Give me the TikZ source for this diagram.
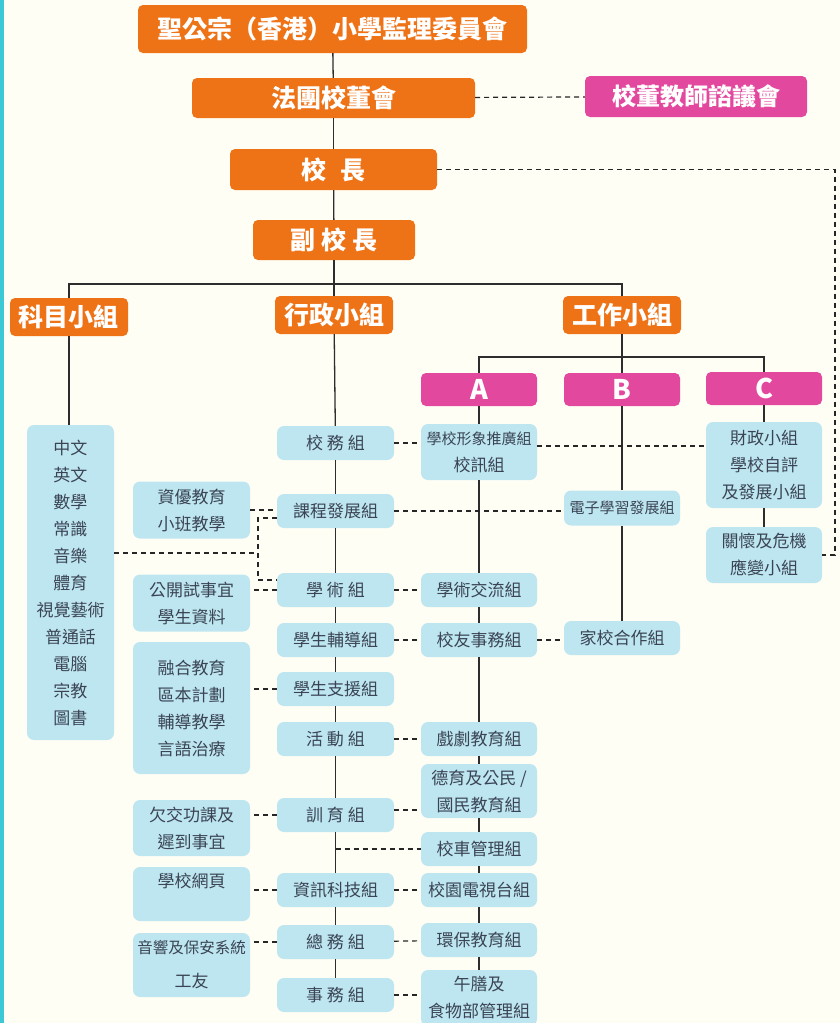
\documentclass[tikz,border=0pt]{standalone}
\usepackage{fontspec}
\setmainfont{Noto Sans CJK TC}

\definecolor{paper}{RGB}{255,254,244}
\definecolor{edgeteal}{RGB}{60,200,212}
\definecolor{orgfill}{RGB}{238,114,22}
\definecolor{pinkfill}{RGB}{226,72,158}
\definecolor{bluefill}{RGB}{190,230,241}
\definecolor{bluetext}{RGB}{58,68,84}
\definecolor{linegray}{RGB}{45,45,45}

\tikzset{
  chartbox/.style={rounded corners=5pt, inner sep=0pt, align=center},
  orangebox/.style={chartbox, fill=orgfill, text=white, font=\bfseries\fontsize{25}{27}\selectfont},
  pinkbox/.style={chartbox, fill=pinkfill, text=white, font=\bfseries\fontsize{24}{27}\selectfont},
  bluebox/.style={chartbox, rounded corners=7pt, fill=bluefill, text=bluetext,
    font=\fontsize{17}{27}\selectfont, minimum width=117pt, minimum height=34pt},
  narrow/.style={font=\fontsize{15}{27}\selectfont},
  link/.style={draw=linegray, line width=1.3pt},
  dashlink/.style={draw=black!85, line width=1.2pt, dash pattern=on 5pt off 4pt},
}

\begin{document}
\begin{tikzpicture}[x=1pt,y=-1pt]
  \useasboundingbox (0,0) rectangle (840,1023);
  \fill[paper] (0,0) rectangle (840,1023);
  \fill[edgeteal] (0,0) rectangle (4,1023);

  % upper part of the chart
  \node[orangebox, minimum width=389pt, minimum height=48pt] (top) at (332.5,29) {聖公宗（香港）小學監理委員會};
  \node[orangebox, minimum width=283pt, minimum height=40pt] (board) at (333.5,98) {法團校董會};
  \node[pinkbox, minimum width=222pt, minimum height=41pt] (council) at (696,96.5) {校董教師諮議會};
  \node[orangebox, minimum width=207pt, minimum height=41pt] (head) at (333.5,169.5) {校\hspace{14pt}長};
  \node[orangebox, minimum width=162pt, minimum height=40pt] (deputy) at (334,240) {副\hspace{6pt}校\hspace{6pt}長};
  \node[orangebox, minimum width=118pt, minimum height=38pt] (subj) at (69,317) {科目小組};
  \node[orangebox, minimum width=118pt, minimum height=38pt] (admin) at (334,315) {行政小組};
  \node[orangebox, minimum width=118pt, minimum height=38pt] (work) at (622,315) {工作小組};
  \node[pinkbox, font=\bfseries\fontsize{27}{27}\selectfont, minimum width=116pt, minimum height=33pt] (ga) at (479,389.5) {A};
  \node[pinkbox, font=\bfseries\fontsize{27}{27}\selectfont, minimum width=116pt, minimum height=33pt] (gb) at (622,389.5) {B};
  \node[pinkbox, font=\bfseries\fontsize{27}{27}\selectfont, minimum width=116pt, minimum height=33pt] (gc) at (764,388.5) {C};
  \coordinate (bar) at (334,284);
  \coordinate (split) at (622,357);
  \coordinate (rloop) at (835,400);

  % subjects
  \node[bluebox, minimum width=87pt, minimum height=315pt] (subjects) at (70.5,582.5)
    {中文\\英文\\數學\\常識\\音樂\\體育\\視覺藝術\\普通話\\電腦\\宗教\\圖書};

  % admin column
  \foreach \n/\y/\t in {a1/443/校 務 組, a2/511/課程發展組, a3/590/學 術 組, a4/640/學生輔導組,
      a5/689/學生支援組, a6/739/活 動 組, a7/815/訓 育 組, a8/890/資訊科技組,
      a9/942/總 務 組, a10/995/事 務 組}
    \node[bluebox] (\n) at (335.5,\y) {\t};

  % side boxes of the admin column
  \node[bluebox, minimum height=57pt] (l1) at (191.5,510) {資優教育\\小班教學};
  \node[bluebox, minimum height=57pt] (l2) at (191.5,603) {公開試事宜\\學生資料};
  \node[bluebox, minimum height=132pt] (l3) at (191.5,708) {融合教育\\區本計劃\\輔導教學\\言語治療};
  \node[bluebox, minimum height=56pt] (l4) at (191.5,828) {欠交功課及\\遲到事宜};
  \node[bluebox, minimum height=54pt] (l5) at (191.5,894) {學校網頁\\\phantom{學}};
  \node[bluebox, minimum height=64pt] (l6) at (191.5,965)
    {{\fontsize{15.5}{27}\selectfont 音響及保安系統}\\[7pt]工友};

  % group A
  \node[bluebox, minimum width=116pt, minimum height=56pt] (w1) at (479,452)
    {{\fontsize{15}{27}\selectfont 學校形象推廣組}\\校訊組};
  \node[bluebox, minimum width=116pt] (w2) at (479,590) {學術交流組};
  \node[bluebox, minimum width=116pt] (w3) at (479,640) {校友事務組};
  \node[bluebox, minimum width=116pt] (w4) at (479,739) {戲劇教育組};
  \node[bluebox, minimum width=116pt, minimum height=54pt] (w5) at (479,791) {德育及公民 /\\國民教育組};
  \node[bluebox, minimum width=116pt] (w6) at (479,849) {校車管理組};
  \node[bluebox, minimum width=116pt] (w7) at (479,890) {校園電視台組};
  \node[bluebox, minimum width=116pt] (w8) at (479,940) {環保教育組};
  \node[bluebox, minimum width=116pt, minimum height=56pt] (w9) at (479,998) {午膳及\\食物部管理組};

  % group B
  \node[bluebox, narrow, minimum width=116pt, minimum height=35pt] (b1) at (622,508) {電子學習發展組};
  \node[bluebox, minimum width=116pt] (b2) at (622,638) {家校合作組};

  % group C
  \node[bluebox, minimum width=116pt, minimum height=86pt] (c1) at (764,465) {財政小組\\學校自評\\及發展小組};
  \node[bluebox, minimum width=116pt, minimum height=56pt] (c2) at (764,555) {關懷及危機\\應變小組};

  % solid lines
  \draw[link] (top) -- (board);
  \draw[link] (board) -- (head);
  \draw[link] (head) -- (deputy);
  \draw[link] (deputy) -- (admin);
  \draw[link] (subj.north) |- (bar) -| (work.north);
  \draw[link] (subj) -- (subj |- subjects.north);
  \draw[link] (work) -- (gb);
  \draw[link] (ga.north) |- (split) -| (gc.north);
  \foreach \u/\v in {admin/a1, a1/a2, a2/a3, a3/a4, a4/a5, a5/a6, a6/a7, a7/a8, a8/a9, a9/a10,
      ga/w1, w1/w2, w2/w3, w3/w4, w4/w5, w5/w6, w6/w7, w7/w8, w8/w9,
      gb/b1, b1/b2, gc/c1, c1/c2}
    \draw[link] (\u) -- (\v);

  % dashed links
  \draw[dashlink] (board) -- (council);
  \draw[dashlink] (head.east) -| (rloop) |- (c2.east);
  \draw[dashlink] (a1) -- (a1 -| w1.west);
  \draw[dashlink] ([yshift=6pt]w1.east) -- ([yshift=6pt]w1.east -| c1.west);
  \draw[dashlink] (a2) -- (a2 -| b1.west);
  \draw[dashlink] (l1) -- (l1 -| a2.west);
  \coordinate (brk) at (258,553);
  \draw[dashlink] (subjects.east |- brk) -- (brk);
  \draw[dashlink] ([yshift=-7pt]a2.west) -| (brk) |- ([yshift=10pt]a3.west);
  \draw[dashlink] (a3) -- (a3 -| l2.east);
  \draw[dashlink] (a3) -- (w2);
  \draw[dashlink] (a4) -- (w3);
  \draw[dashlink] (w3) -- (w3 -| b2.west);
  \draw[dashlink] (a5) -- (a5 -| l3.east);
  \draw[dashlink] (a6) -- (w4);
  \draw[dashlink] (a7) -- (a7 -| l4.east);
  \draw[dashlink] ([yshift=5pt]a7.east) -- ([yshift=5pt]a7.east -| w5.west);
  \draw[dashlink] (a7 |- w6) -- (w6);
  \draw[dashlink] (a8) -- (a8 -| l5.east);
  \draw[dashlink] (a8) -- (w7);
  \draw[dashlink] (a9) -- (a9 -| l6.east);
  \draw[dashlink] (a9) -- (w8);
  \draw[dashlink] (a10) -- (a10 -| w9.west);
\end{tikzpicture}
\end{document}
